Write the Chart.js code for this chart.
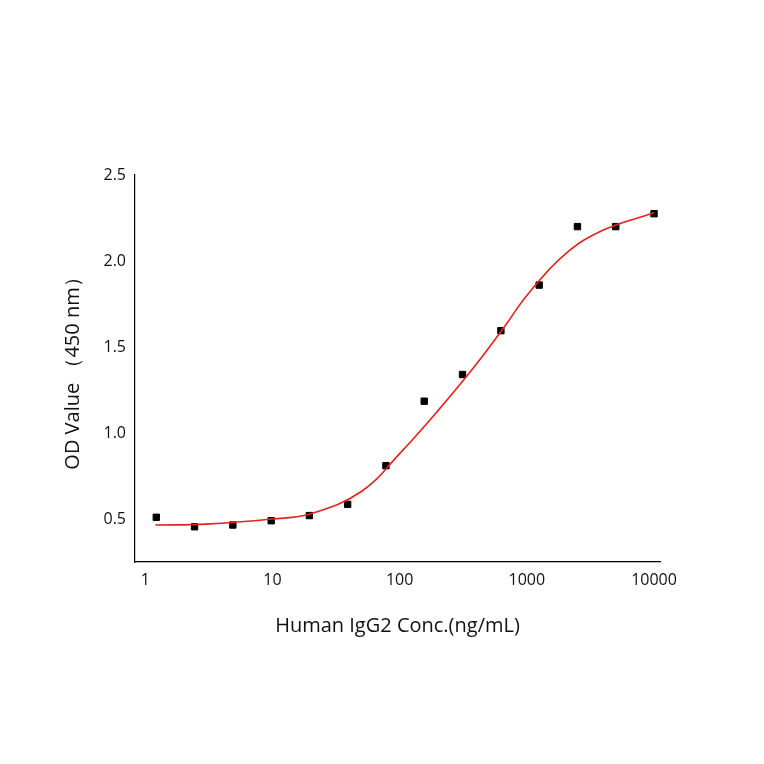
<!DOCTYPE html><html><head><script src="https://cdn.jsdelivr.net/npm/chart.js@4"></script>
<style>body{margin:0;background:#fff}#w{width:764px;height:764px}</style></head><body><div id="w"><canvas id="c"></canvas></div>
<script>
const concX=[1.22,2.44,4.88,9.77,19.5,39,78,156,312,625,1250,2500,5000,10000];
const odY=[0.51,0.455,0.465,0.49,0.52,0.585,0.81,1.185,1.34,1.595,1.86,2.20,2.20,2.275];
const fitX=[1.2,3,10,20,50,100,200,400,700,1000,2000,4000,10000];
const fitY=[0.465,0.47,0.50,0.53,0.66,0.88,1.13,1.40,1.64,1.80,2.04,2.18,2.28];
const xTicks=[1,10,100,1000,10000];
const yTicks=[0.5,1.0,1.5,2.0,2.5];
const F="'Open Sans', sans-serif";
new Chart(document.getElementById('c'),{type:'scatter',
data:{datasets:[
{type:'line',data:fitX.map((x,i)=>({x,y:fitY[i]})),borderColor:'#e8211f',borderWidth:1.6,pointRadius:0,tension:0.4,fill:false},
{data:concX.map((x,i)=>({x,y:odY[i]})),backgroundColor:'#000',borderColor:'#000',pointStyle:'rect',pointRadius:4.5}]},
options:{responsive:true,maintainAspectRatio:false,animation:false,
layout:{padding:{left:57,right:104,top:175,bottom:122}},
plugins:{legend:{display:false},tooltip:{enabled:false}},
scales:{
x:{type:'logarithmic',min:0.83,max:11140,afterFit:s=>{s.height=80},
afterBuildTicks:s=>{s.ticks=xTicks.map(v=>({value:v}))},
grid:{display:false,drawTicks:true,tickLength:6,color:'#000'},border:{color:'#000',width:1.2},
ticks:{color:'#111',font:{family:F,size:16},callback:v=>String(v),maxRotation:0},
title:{display:true,text:'Human IgG2 Conc.(ng/mL)',color:'#111',font:{family:F,size:20},padding:{top:6}}},
y:{min:0.25,max:2.5,afterFit:s=>{s.width=78},
afterBuildTicks:s=>{s.ticks=yTicks.map(v=>({value:v}))},
grid:{display:false,drawTicks:true,tickLength:6,color:'#000'},border:{color:'#000',width:1.2},
ticks:{color:'#111',font:{family:F,size:16},callback:v=>v.toFixed(1)},
title:{display:true,text:'OD Value （450 nm）',color:'#111',font:{family:F,size:20},padding:{bottom:4}}}}}});
</script></body></html>
